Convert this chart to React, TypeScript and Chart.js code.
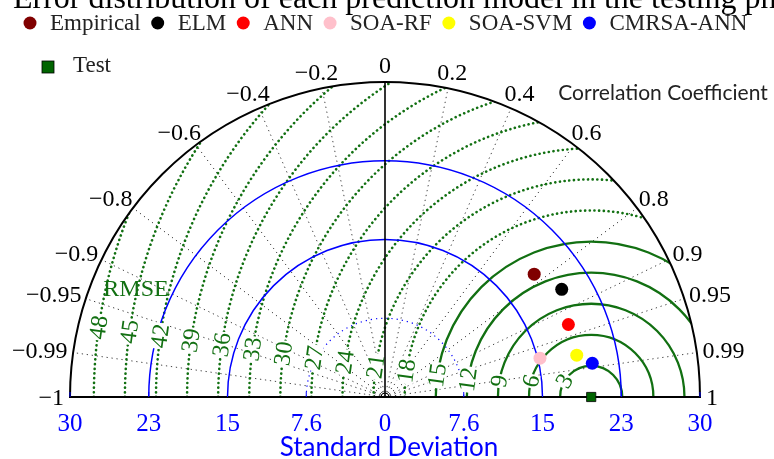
import React, { useEffect, useRef } from 'react';
import { Chart, registerables } from 'chart.js';

Chart.register(...registerables);

// ---------- data ----------
const titleText = 'Error distribution of each prediction model in the testing phase';
const modelNames = ['Empirical', 'ELM', 'ANN', 'SOA-RF', 'SOA-SVM', 'CMRSA-ANN'];
const modelColors = ['#800000', '#000000', '#ff0000', '#ffc0cb', '#ffff00', '#0000ff'];
const modelStd = [18.65, 19.97, 19.03, 15.42, 18.94, 20.27];
const modelCorr = [0.772, 0.854, 0.93, 0.97, 0.977, 0.987];
const testName = 'Test';
const testColor = '#006400';
const testStd = 19.9;
const testCorr = 1;

const stdMax = 30.4;
const stdTicks = [7.6, 15.2, 22.8, 30.4];
const stdTickLabels = ['7.6', '15', '23', '30'];
const stdDottedArcs = [7.6];
const corrTicks = [0.2, 0.4, 0.6, 0.8, 0.9, 0.95, 0.99];
const corrTickLabels = ['0.2', '0.4', '0.6', '0.8', '0.9', '0.95', '0.99'];
const rmseLevels = [3, 6, 9, 12, 15, 18, 21, 24, 27, 30, 33, 36, 39, 42, 45, 48];
const rmseSolidMax = 15;

const W = 774;
const H = 459;
const PAD_L = 70;
const PAD_R = 74;
const PAD_B = 62;
const Y_MAX = 36;

const SERIF = '"Liberation Serif", "Times New Roman", serif';
const SANS = 'Lato, "Open Sans", sans-serif';
const GREEN = '#127012';
const MINUS = '\u2212';

function geo(chart: any) {
  const xs = chart.scales.x;
  const ys = chart.scales.y;
  const cx = xs.getPixelForValue(0);
  const cy = ys.getPixelForValue(0);
  const k = (xs.getPixelForValue(stdMax) - cx) / stdMax;
  const rx = xs.getPixelForValue(testStd * testCorr);
  return { cx, cy, k, R: stdMax * k, rx };
}

const taylorPlugin = {
  id: 'taylorGrid',
  beforeDatasetsDraw(chart: any) {
    const ctx = chart.ctx as CanvasRenderingContext2D;
    const { cx, cy, k, R, rx } = geo(chart);

    ctx.save();
    ctx.beginPath();
    ctx.arc(cx, cy, R, Math.PI, 2 * Math.PI);
    ctx.closePath();
    ctx.clip();

    // radial correlation lines
    ctx.strokeStyle = 'rgba(50,50,50,0.9)';
    ctx.lineWidth = 1;
    ctx.setLineDash([1.3, 3.7]);
    for (const c of corrTicks) {
      for (const s of [1, -1]) {
        const th = Math.acos(s * c);
        ctx.beginPath();
        ctx.moveTo(cx, cy);
        ctx.lineTo(cx + R * Math.cos(th), cy - R * Math.sin(th));
        ctx.stroke();
      }
    }

    // RMSE arcs around the reference
    for (const lvl of rmseLevels) {
      const r = lvl * k;
      ctx.beginPath();
      ctx.arc(rx, cy, r, Math.PI, 2 * Math.PI);
      ctx.strokeStyle = GREEN;
      if (lvl <= rmseSolidMax) {
        ctx.setLineDash([]);
        ctx.lineWidth = 2.3;
        ctx.lineCap = 'butt';
      } else {
        ctx.setLineDash([0.1, 4.6]);
        ctx.lineWidth = 2.6;
        ctx.lineCap = 'round';
      }
      ctx.stroke();
    }
    ctx.lineCap = 'butt';

    // standard deviation arcs
    for (const s of stdTicks) {
      if (s >= stdMax) continue;
      ctx.beginPath();
      ctx.arc(cx, cy, s * k, Math.PI, 2 * Math.PI);
      ctx.strokeStyle = '#0000ff';
      if (stdDottedArcs.includes(s)) {
        ctx.setLineDash([1.2, 4]);
        ctx.lineWidth = 1.2;
      } else {
        ctx.setLineDash([]);
        ctx.lineWidth = 1.5;
      }
      ctx.stroke();
    }
    ctx.setLineDash([]);

    // RMSE labels
    ctx.font = `24px ${SERIF}`;
    ctx.textAlign = 'center';
    ctx.textBaseline = 'middle';
    for (const lvl of rmseLevels) {
      const r = lvl * k;
      const dy = Math.max(r * 0.14, 16);
      const phi = Math.asin(Math.min(dy / r, 0.95));
      const px = rx - r * Math.cos(phi);
      const py = cy - r * Math.sin(phi);
      if (px < cx - R + 10) continue;
      const txt = String(lvl);
      const w = ctx.measureText(txt).width;
      ctx.save();
      ctx.translate(px, py);
      ctx.rotate(-(Math.PI / 2 - phi));
      ctx.fillStyle = '#ffffff';
      ctx.fillRect(-w / 2 - 1, -8, w + 2, 16);
      ctx.fillStyle = GREEN;
      ctx.fillText(txt, 0, 1);
      ctx.restore();
    }
    ctx.restore();

    // frame
    ctx.save();
    ctx.strokeStyle = '#000';
    ctx.lineWidth = 2;
    ctx.beginPath();
    ctx.arc(cx, cy, R, Math.PI, 2 * Math.PI);
    ctx.stroke();
    ctx.beginPath();
    ctx.moveTo(cx - R - 1, cy);
    ctx.lineTo(cx + R + 1, cy);
    ctx.stroke();
    ctx.lineWidth = 1.6;
    ctx.beginPath();
    ctx.moveTo(cx, cy);
    ctx.lineTo(cx, cy - R);
    ctx.stroke();
    ctx.lineWidth = 1;
    ctx.beginPath();
    ctx.arc(cx, cy, 4, Math.PI, 2 * Math.PI);
    ctx.stroke();
    // small std ticks on baseline
    ctx.strokeStyle = '#0000ff';
    for (const s of stdTicks) {
      for (const sg of [1, -1]) {
        const x = cx + sg * s * k;
        ctx.beginPath();
        ctx.moveTo(x, cy);
        ctx.lineTo(x, cy - 5);
        ctx.stroke();
      }
    }
    ctx.restore();
  },
  afterDatasetsDraw(chart: any) {
    const ctx = chart.ctx as CanvasRenderingContext2D;
    const { cx, cy, R } = geo(chart);
    ctx.save();

    // correlation labels
    ctx.font = `24px ${SERIF}`;
    ctx.fillStyle = '#000';
    ctx.textBaseline = 'middle';
    ctx.textAlign = 'left';
    const allCorr: number[] = [];
    const allLab: string[] = [];
    allCorr.push(0); allLab.push('0');
    corrTicks.forEach((c, i) => {
      allCorr.push(c); allLab.push(corrTickLabels[i]);
      allCorr.push(-c); allLab.push(MINUS + corrTickLabels[i]);
    });
    allCorr.push(1); allLab.push('1');
    allCorr.push(-1); allLab.push(MINUS + '1');
    allCorr.forEach((c, i) => {
      const th = Math.acos(c);
      const rr = R + 6;
      const px = cx + rr * Math.cos(th);
      const py = cy - rr * Math.sin(th);
      const w = ctx.measureText(allLab[i]).width;
      const left = px - (w * (1 - Math.cos(th))) / 2;
      const y = py - 9 * Math.sin(th) + 2 * (1 - Math.sin(th));
      ctx.fillText(allLab[i], left, y);
    });

    // std tick labels
    ctx.fillStyle = '#0000ff';
    ctx.textAlign = 'center';
    ctx.textBaseline = 'alphabetic';
    ctx.font = `25px ${SERIF}`;
    ctx.fillText('0', cx, cy + 34);
    stdTicks.forEach((s, i) => {
      for (const sg of [1, -1]) {
        ctx.fillText(stdTickLabels[i], cx + sg * s * (R / stdMax), cy + 34);
      }
    });
    ctx.font = `26px ${SANS}`;
    ctx.fillText('Standard Deviation', cx + 4, cy + 59);

    // axis titles
    ctx.fillStyle = '#222';
    ctx.font = `21px ${SANS}`;
    ctx.textAlign = 'center';
    ctx.textBaseline = 'middle';
    ctx.fillText('Correlation Coefficient', cx + 278, cy - 304);
    ctx.fillStyle = GREEN;
    ctx.font = `24px ${SERIF}`;
    ctx.fillText('RMSE', cx - 249, cy - 107);

    // title
    ctx.fillStyle = '#000';
    ctx.font = `32px ${SERIF}`;
    ctx.textAlign = 'left';
    ctx.textBaseline = 'alphabetic';
    ctx.fillText(titleText, 13, 8);

    // legend
    ctx.font = `23px ${SERIF}`;
    ctx.textBaseline = 'middle';
    let lx = 30;
    const ly = 23;
    modelNames.forEach((n, i) => {
      ctx.beginPath();
      ctx.arc(lx, ly, 6.5, 0, 2 * Math.PI);
      ctx.fillStyle = modelColors[i];
      ctx.fill();
      ctx.fillStyle = '#222';
      ctx.fillText(n, lx + 20, ly + 1);
      lx = lx + 20 + ctx.measureText(n).width + 17;
    });
    ctx.fillStyle = testColor;
    ctx.fillRect(42, 61, 12, 12);
    ctx.strokeStyle = '#000';
    ctx.lineWidth = 0.8;
    ctx.strokeRect(42, 61, 12, 12);
    ctx.fillStyle = '#222';
    ctx.fillText(testName, 73, 66);

    ctx.restore();
  },
};

export default function App() {
  const ref = useRef<HTMLCanvasElement | null>(null);
  useEffect(() => {
    if (!ref.current) return;
    const k = (W - PAD_L - PAD_R) / (2 * stdMax);
    const padTop = H - PAD_B - Y_MAX * k;
    const datasets: any[] = modelNames.map((n, i) => ({
      label: n,
      data: [{ x: modelStd[i] * modelCorr[i], y: modelStd[i] * Math.sqrt(1 - modelCorr[i] * modelCorr[i]) }],
      backgroundColor: modelColors[i],
      borderColor: modelColors[i],
      pointRadius: 6.5,
      pointBorderWidth: 0,
      pointStyle: 'circle',
      clip: false,
    }));
    datasets.push({
      label: testName,
      data: [{ x: testStd * testCorr, y: testStd * Math.sqrt(1 - testCorr * testCorr) }],
      backgroundColor: testColor,
      borderColor: '#000',
      pointRadius: 6.5,
      pointBorderWidth: 0.8,
      pointStyle: 'rect',
      clip: false,
    });
    const chart = new Chart(ref.current, {
      type: 'scatter',
      data: { datasets },
      options: {
        responsive: false,
        animation: false,
        devicePixelRatio: 1,
        events: [],
        layout: { padding: { left: PAD_L, right: PAD_R, top: padTop, bottom: PAD_B } },
        scales: {
          x: { type: 'linear', min: -stdMax, max: stdMax, display: false },
          y: { type: 'linear', min: 0, max: Y_MAX, display: false },
        },
        plugins: { legend: { display: false }, tooltip: { enabled: false }, title: { display: false } },
      },
      plugins: [taylorPlugin],
    } as any);
    return () => chart.destroy();
  }, []);
  return (
    <div style={{ position: 'absolute', left: 0, top: 0, width: W, height: H, background: '#fff' }}>
      <canvas ref={ref} width={W} height={H} style={{ width: W, height: H, display: 'block' }} />
    </div>
  );
}
